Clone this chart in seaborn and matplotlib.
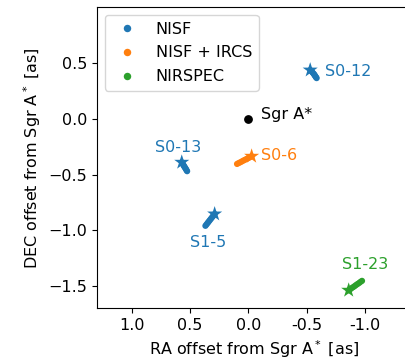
import matplotlib
matplotlib.use("Agg")
import matplotlib.pyplot as plt
import seaborn as sns
import pandas as pd

sns.set_style("white")
plt.rcParams["font.family"] = ["DejaVu Sans"]
plt.rcParams["font.size"] = 11.5
plt.rcParams["axes.edgecolor"] = "black"
plt.rcParams["axes.labelcolor"] = "black"
plt.rcParams["text.color"] = "black"
plt.rcParams["xtick.color"] = "black"
plt.rcParams["ytick.color"] = "black"
plt.rcParams["xtick.bottom"] = True
plt.rcParams["ytick.left"] = True

instruments = ["NISF", "NISF + IRCS", "NIRSPEC"]
colors = ["#1f77b4", "#ff7f0e", "#2ca02c"]

stars = ["S0-12", "S0-13", "S0-6", "S1-5", "S1-23"]
star_instrument = ["NISF", "NISF", "NISF + IRCS", "NISF", "NIRSPEC"]

s012_ra = [-0.585, -0.580, -0.575, -0.570, -0.565, -0.560, -0.552, -0.545, -0.538, -0.530]
s012_dec = [0.365, 0.372, 0.380, 0.388, 0.396, 0.404, 0.413, 0.421, 0.430, 0.437]
s013_ra = [0.525, 0.530, 0.535, 0.540, 0.546, 0.551, 0.556, 0.561, 0.566, 0.571]
s013_dec = [-0.470, -0.461, -0.452, -0.443, -0.434, -0.425, -0.416, -0.407, -0.398, -0.390]
s06_ra = [0.097, 0.083, 0.069, 0.055, 0.041, 0.027, 0.013, -0.001, -0.015, -0.028]
s06_dec = [-0.405, -0.397, -0.390, -0.382, -0.374, -0.367, -0.359, -0.351, -0.344, -0.336]
s15_ra = [0.368, 0.359, 0.350, 0.342, 0.333, 0.324, 0.315, 0.306, 0.298, 0.289]
s15_dec = [-0.960, -0.948, -0.936, -0.925, -0.913, -0.901, -0.889, -0.877, -0.866, -0.854]
s123_ra = [-0.974, -0.961, -0.949, -0.936, -0.923, -0.911, -0.898, -0.885, -0.873, -0.860]
s123_dec = [-1.454, -1.463, -1.473, -1.482, -1.491, -1.501, -1.510, -1.519, -1.529, -1.538]

tracks_ra = [s012_ra, s013_ra, s06_ra, s15_ra, s123_ra]
tracks_dec = [s012_dec, s013_dec, s06_dec, s15_dec, s123_dec]

label_pos = {"S0-12": (-0.66, 0.42, "left"), "S0-13": (0.60, -0.26, "center"),
             "S0-6": (-0.11, -0.33, "left"), "S1-5": (0.343, -1.11, "center"),
             "S1-23": (-1.00, -1.31, "center")}

xticks = [1.0, 0.5, 0.0, -0.5, -1.0]
xticklabels = ["1.0", "0.5", "0.0", "-0.5", "-1.0"]
yticks = [0.5, 0.0, -0.5, -1.0, -1.5]

rows = []
for name, inst, ra, dec in zip(stars, star_instrument, tracks_ra, tracks_dec):
    for r, d in zip(ra, dec):
        rows.append({"star": name, "instrument": inst, "ra": r, "dec": d})
df = pd.DataFrame(rows)
last = df.groupby("star", sort=False).tail(1)

W, H = 406, 364
fig = plt.figure(figsize=(W / 100, H / 100), dpi=100)
ax = fig.add_axes([96.7 / W, (H - 308.3) / H, 315 / W, 301 / H])

palette = dict(zip(instruments, colors))
sns.scatterplot(data=df, x="ra", y="dec", hue="instrument", hue_order=instruments,
                palette=palette, s=20, linewidth=0, ax=ax)
sns.scatterplot(data=last, x="ra", y="dec", hue="instrument", hue_order=instruments,
                palette=palette, marker="*", s=130, linewidth=0, ax=ax, legend=False)
ax.scatter([0.0], [0.0], color="black", s=28, zorder=3)
ax.text(-0.11, 0.04, "Sgr A*", color="black", ha="left", va="center", fontsize=11.5)

for name, inst in zip(stars, star_instrument):
    x, y, ha = label_pos[name]
    ax.text(x, y, name, color=palette[inst], ha=ha, va="center", fontsize=11.5)

handles, labels = ax.get_legend_handles_labels()
ax.legend(handles[:3], labels[:3], loc="upper left", fontsize=11.5,
          labelspacing=0.55, borderaxespad=0.5, markerscale=1.2)

ax.set_xlim(1.3, -1.4)
ax.set_ylim(-1.7, 1.0)
ax.set_xticks(xticks)
ax.set_xticklabels(xticklabels)
ax.set_yticks(yticks)
ax.set_xlabel("RA offset from Sgr A$^*$ [as]", fontsize=11.5)
ax.set_ylabel("DEC offset from Sgr A$^*$ [as]", fontsize=11.5)
ax.tick_params(direction="out", length=3.5, width=0.8, labelsize=11.5)

fig.savefig("out.png", dpi=100)
